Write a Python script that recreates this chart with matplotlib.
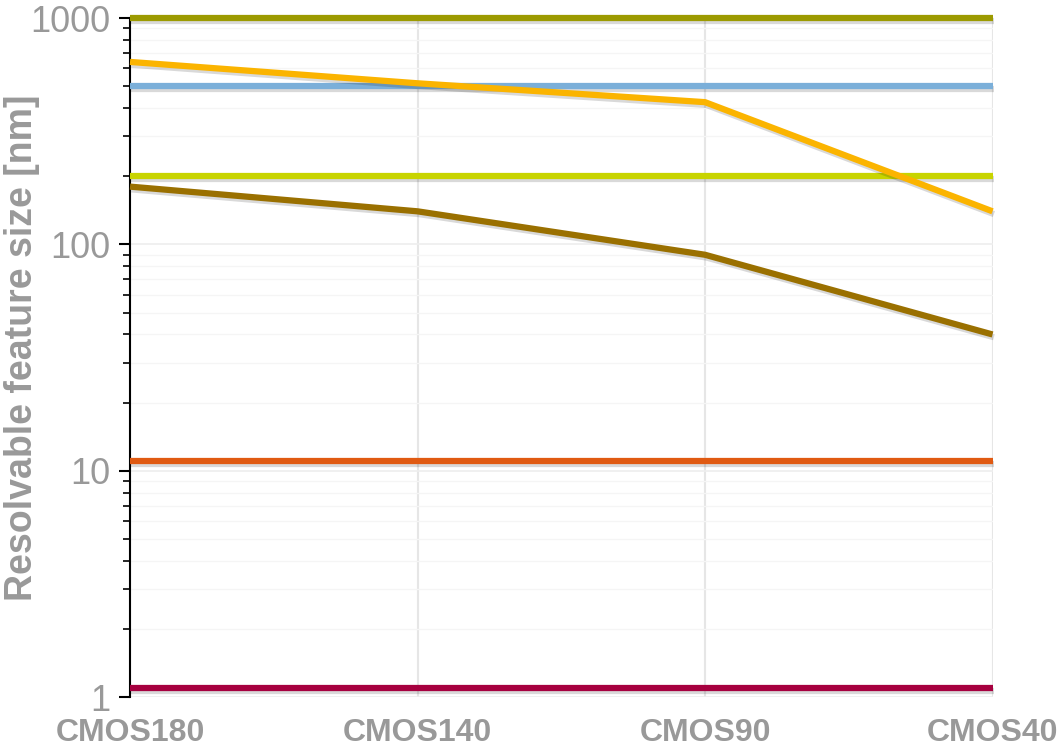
import numpy as np
import matplotlib.pyplot as plt
import matplotlib.patheffects as pe
from matplotlib.ticker import LogLocator, NullFormatter, FixedLocator

plt.rcParams['font.family'] = ['Liberation Sans', 'DejaVu Sans']

nodes = ['CMOS180', 'CMOS140', 'CMOS90', 'CMOS40']

# resolvable feature size [nm] per series
s_olive = [1000, 1000, 1000, 1000]
s_orange = [640, 515, 425, 140]
s_blue = [500, 500, 500, 500]
s_lime = [200, 200, 200, 200]
s_brown = [180, 140, 90, 40]
s_red = [11, 11, 11, 11]
s_crimson = [1.1, 1.1, 1.1, 1.1]

series = [
    (s_crimson, '#a6003f'),
    (s_red, '#e05a12'),
    (s_brown, '#9a7000'),
    (s_lime, '#c8d400'),
    (s_blue, '#7bafd9'),
    (s_orange, '#fbb400'),
    (s_olive, '#9c9a00'),
]

fig = plt.figure(figsize=(10.57, 7.52), dpi=100)
ax = fig.add_axes([0.123, 0.073, 0.816, 0.903])

x = np.arange(len(nodes))
shadow = [pe.SimpleLineShadow(offset=(1, -2), shadow_color='black', alpha=0.15),
          pe.Normal()]
for vals, col in series:
    ax.plot(x, vals, color=col, lw=4.5, solid_capstyle='butt',
            path_effects=shadow, zorder=3, clip_on=False)

ax.set_yscale('log')
ax.set_ylim(1, 1000)
ax.set_xlim(0, 3)
ax.set_xticks(x)
ax.set_xticklabels(nodes, fontsize=23, fontweight='bold', color='#999999')
ax.tick_params(axis='x', length=0, pad=15)

ax.yaxis.set_major_locator(FixedLocator([1, 10, 100, 1000]))
ax.set_yticklabels(['1', '10', '100', '1000'])
ax.yaxis.set_minor_locator(LogLocator(base=10, subs=np.arange(2, 10)))
ax.yaxis.set_minor_formatter(NullFormatter())
ax.tick_params(axis='y', which='major', length=8, width=1.5, labelsize=26,
               labelcolor='#999999', pad=6)
ax.tick_params(axis='y', which='minor', length=5, width=1.2)

ax.set_ylabel('Resolvable feature size [nm]', fontsize=27, fontweight='bold',
              color='#999999')
ax.yaxis.set_label_coords(-0.104, 0.515)

ax.grid(True, axis='x', color='#e6e6e6', lw=1.5)
ax.grid(True, axis='y', which='major', color='#eeeeee', lw=1.2)
ax.grid(True, axis='y', which='minor', color='#f5f5f5', lw=1.0)
ax.set_axisbelow(True)

for s in ['top', 'right', 'bottom']:
    ax.spines[s].set_visible(False)
ax.spines['left'].set_linewidth(1.5)

fig.savefig('out.png', dpi=100)
